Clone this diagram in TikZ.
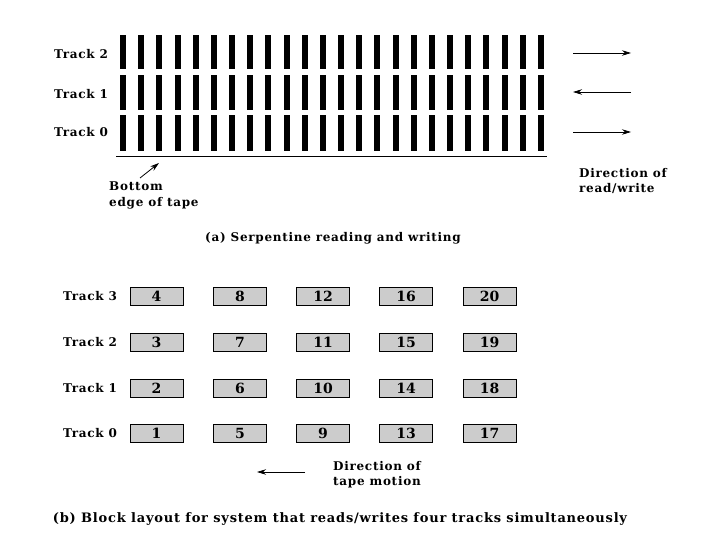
\documentclass[tikz,border=0pt]{standalone}
\usepackage{fontspec}
\setmainfont{DejaVu Serif}
\newfontfamily\lblfont[LetterSpace=6]{DejaVu Serif}
\usetikzlibrary{arrows.meta}
\begin{document}
\begin{tikzpicture}[x=1pt,y=-1pt,
  lbl/.style={font=\lblfont\fontsize{12}{15.5}\selectfont\bfseries, inner sep=0pt},
  capstyle/.style={font=\lblfont\fontsize{13}{15}\selectfont\bfseries, inner sep=0pt},
  blockbox/.style={draw=black, line width=0.8pt, fill=black!20, minimum width=53pt, minimum height=18pt, inner sep=0pt, font=\fontsize{14}{14}\selectfont\bfseries},
  arr/.style={line width=0.8pt, -{Stealth[length=9pt,width=5.5pt]}},
  bar/.style={fill=black, draw=none}]
\useasboundingbox (0,0) rectangle (720,540);
% (a) tracks
\foreach \i in {0,...,23}{
  \pgfmathsetmacro{\xl}{120+\i*18.17}
  \fill[bar] (\xl,35) rectangle ++(6,34);
  \fill[bar] (\xl,75) rectangle ++(6,35);
  \fill[bar] (\xl,115) rectangle ++(6,36);
}
\coordinate (edgeL) at (116,156);
\coordinate (edgeR) at (547,156);
\draw[line width=0.9pt] (edgeL) -- (edgeR);
\node[lbl] (t2a) at (81,54) {Track 2};
\node[lbl] (t1a) at (81,94) {Track 1};
\node[lbl] (t0a) at (81,132) {Track 0};
\node[lbl, align=left, anchor=north west] (bottom) at (109,182) {Bottom\\edge of tape};
\coordinate (bt) at (159,163);
\draw[arr] (bottom.north west) ++(31,-4) coordinate (bs) -- (bt);
\coordinate (a2s) at (573,53); \coordinate (a2e) at (631,53);
\coordinate (a1s) at (631,92); \coordinate (a1e) at (573,92);
\coordinate (a0s) at (573,132); \coordinate (a0e) at (631,132);
\draw[arr] (a2s) -- (a2e);
\draw[arr] (a1s) -- (a1e);
\draw[arr] (a0s) -- (a0e);
\node[lbl, align=left, anchor=north west] (dirrw) at (579,168) {Direction of\\read/write};
\node[lbl] (capa) at (333,238) {(a) Serpentine reading and writing};
% (b) blocks
\foreach \c/\cx in {0/156.5,1/240,2/323,3/406,4/489.5}{
  \foreach \r/\cy in {0/433,1/388,2/342,3/296}{
    \pgfmathtruncatemacro{\n}{\c*4+\r+1}
    \node[blockbox] (b\n) at (\cx,\cy) {\n};
  }
}
\node[lbl] (t3b) at (90,296) {Track 3};
\node[lbl] (t2b) at (90,342) {Track 2};
\node[lbl] (t1b) at (90,388) {Track 1};
\node[lbl] (t0b) at (90,433) {Track 0};
\coordinate (ms) at (305,472); \coordinate (me) at (257,472);
\draw[arr] (ms) -- (me);
\node[lbl, align=left, anchor=north west] (dirtm) at (333,461) {Direction of\\tape motion};
\node[capstyle] (capb) at (340,519) {(b) Block layout for system that reads/writes four tracks simultaneously};
\end{tikzpicture}
\end{document}
